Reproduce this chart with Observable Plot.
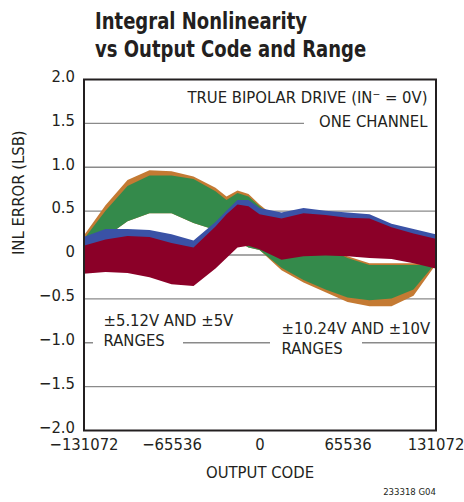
<!DOCTYPE html>
<html>
<head>
<meta charset="utf-8">
<script src="https://cdn.jsdelivr.net/npm/d3@7"></script>
<script src="https://cdn.jsdelivr.net/npm/@observablehq/plot@0.6"></script>
<style>
  html, body { margin: 0; padding: 0; background: #fff; }
  #wrap { width: 464px; height: 502px; position: relative; overflow: hidden; }
  #title {
    height: 65px; box-sizing: border-box; padding: 7px 0 0 95px;
  }
  #title div {
    font-family: "DejaVu Sans Condensed", "DejaVu Sans", sans-serif; font-stretch: condensed;
    font-weight: bold; font-size: 22.5px; line-height: 28px; color: #231f20;
    transform: scaleX(0.89); transform-origin: left top; white-space: nowrap;
  }
  #chart svg { display: block; }
</style>
</head>
<body>
<div id="wrap">
  <div id="title"><div>Integral Nonlinearity<br>vs Output Code and Range</div></div>
  <div id="chart"></div>
</div>
<script>
// Output codes at which band envelopes were read
const codes = [-131072, -114688, -98304, -81920, -65536, -49152, -32768, -24576, -16384, -8192, 0, 16384, 32768, 49152, 65536, 81920, 98304, 114688, 131072];

// ±10.24V range (orange)
const orangeHi = [0.21, 0.56, 0.85, 0.96, 0.95, 0.89, 0.76, 0.66, 0.73, 0.69, 0.57, 0.37, 0.22, 0.10, -0.02, -0.10, -0.10, -0.10, -0.10];
const orangeLo = [0.02, 0.20, 0.38, 0.47, 0.47, 0.36, 0.28, 0.22, 0.15, 0.08, 0.05, -0.18, -0.32, -0.43, -0.54, -0.59, -0.59, -0.47, -0.12];
// ±10V range (green)
const greenHi = [0.17, 0.50, 0.78, 0.90, 0.90, 0.86, 0.72, 0.62, 0.70, 0.66, 0.55, 0.35, 0.20, 0.08, -0.04, -0.12, -0.12, -0.12, -0.12];
const greenLo = [0.02, 0.20, 0.38, 0.47, 0.47, 0.36, 0.28, 0.22, 0.15, 0.08, 0.05, -0.15, -0.29, -0.40, -0.49, -0.52, -0.50, -0.40, -0.10];
// ±5.12V range (blue)
const blueHi = [0.20, 0.29, 0.29, 0.28, 0.23, 0.16, 0.37, 0.50, 0.62, 0.62, 0.53, 0.48, 0.53, 0.50, 0.48, 0.46, 0.35, 0.29, 0.23];
const blueLo = [-0.19, -0.17, -0.18, -0.23, -0.31, -0.33, -0.13, -0.01, 0.11, 0.13, 0.09, -0.03, 0.01, 0.02, 0.01, -0.01, -0.02, -0.07, -0.13];
// ±5V range (dark red)
const redHi = [0.10, 0.17, 0.21, 0.20, 0.13, 0.08, 0.32, 0.46, 0.57, 0.55, 0.46, 0.41, 0.47, 0.45, 0.42, 0.41, 0.31, 0.24, 0.18];
const redLo = [-0.22, -0.20, -0.21, -0.26, -0.34, -0.36, -0.16, -0.04, 0.08, 0.10, 0.06, -0.06, -0.02, -0.01, -0.02, -0.04, -0.05, -0.10, -0.16];

const xTicks = [-131072, -65536, 0, 65536, 131072];
const xTickLabels = ["−131072", "−65536", "0", "65536", "131072"];
const yTicks = [-2, -1.5, -1, -0.5, 0, 0.5, 1, 1.5, 2];
const yTickLabels = ["−2.0", "−1.5", "−1.0", "−0.5", "0", "0.5", "1.0", "1.5", "2.0"];
const yGrid = [-1.5, -1, -0.5, 0, 0.5, 1, 1.5];

// Annotations (data coordinates)
const notes = [
  {x: 124743, y: 1.795, text: "TRUE BIPOLAR DRIVE (IN⁻ = 0V)", anchor: "end"},
  {x: 124743, y: 1.523, text: "ONE CHANNEL", anchor: "end"},
  {x: -116550, y: -0.75, text: "±5.12V AND ±5V", anchor: "start"},
  {x: -116550, y: -0.977, text: "RANGES", anchor: "start"},
  {x: 16012, y: -0.841, text: "±10.24V AND ±10V", anchor: "start"},
  {x: 16012, y: -1.068, text: "RANGES", anchor: "start"}
];
// White boxes that break the grid lines behind the labels
const gaps = [
  {x1: 33142, x2: 131072, y1: 1.42, y2: 1.62},
  {x1: -123997, x2: -56972, y1: -0.94, y2: -1.06},
  {x1: 7820, x2: 76335, y1: -0.94, y2: -1.06}
];

const band = (hi, lo) => codes.map((c, i) => ({x: c, hi: hi[i], lo: lo[i]}));
const bands = [
  {rows: band(orangeHi, orangeLo), color: "#c47a33"},
  {rows: band(greenHi, greenLo), color: "#348a4b"},
  {rows: band(blueHi, blueLo), color: "#3a52a6"},
  {rows: band(redHi, redLo), color: "#8b0028"}
];

const FONT = "'DejaVu Sans Condensed', 'DejaVu Sans', sans-serif";

const chart = Plot.plot({
  width: 464,
  height: 437,
  marginTop: 14,
  marginBottom: 72,
  marginLeft: 83.5,
  marginRight: 28.5,
  style: {fontFamily: FONT, fontSize: "16.5px", fontStretch: "condensed", color: "#231f20", background: "#fff"},
  x: {domain: [-131072, 131072]},
  y: {domain: [-2, 2]},
  marks: [
    Plot.ruleY(yGrid, {stroke: "#8a8a8a", strokeWidth: 1.4}),
    ...bands.map(b => Plot.areaY(b.rows, {x: "x", y1: "lo", y2: "hi", fill: b.color})),
    Plot.rect(gaps, {x1: "x1", x2: "x2", y1: "y1", y2: "y2", fill: "white"}),
    Plot.frame({stroke: "#231f20", strokeWidth: 2}),
    Plot.axisX(xTicks, {tickSize: 0, tickPadding: 8, tickFormat: (d, i) => xTickLabels[i], label: null, fill: "#231f20"}),
    Plot.axisY(yTicks, {tickSize: 0, tickPadding: 9, dy: -3, tickFormat: (d, i) => yTickLabels[i], label: null, fill: "#231f20"}),
    Plot.text(notes.filter(n => n.anchor === "end"), {x: "x", y: "y", text: "text", textAnchor: "end", lineAnchor: "middle", fill: "#231f20"}),
    Plot.text(notes.filter(n => n.anchor === "start"), {x: "x", y: "y", text: "text", textAnchor: "start", lineAnchor: "middle", fill: "#231f20"}),
    Plot.text(["OUTPUT CODE"], {text: d => d, frameAnchor: "bottom", dy: 42, lineAnchor: "middle", fill: "#231f20"}),
    Plot.text(["INL ERROR (LSB)"], {text: d => d, frameAnchor: "left", dx: -65.5, rotate: -90, lineAnchor: "middle", fill: "#231f20"}),
    Plot.text(["233318 G04"], {text: d => d, frameAnchor: "bottom-right", dy: 61, textAnchor: "end", lineAnchor: "middle", fontSize: 9.5, fill: "#231f20"})
  ]
});
document.getElementById("chart").appendChild(chart);
</script>
</body>
</html>
